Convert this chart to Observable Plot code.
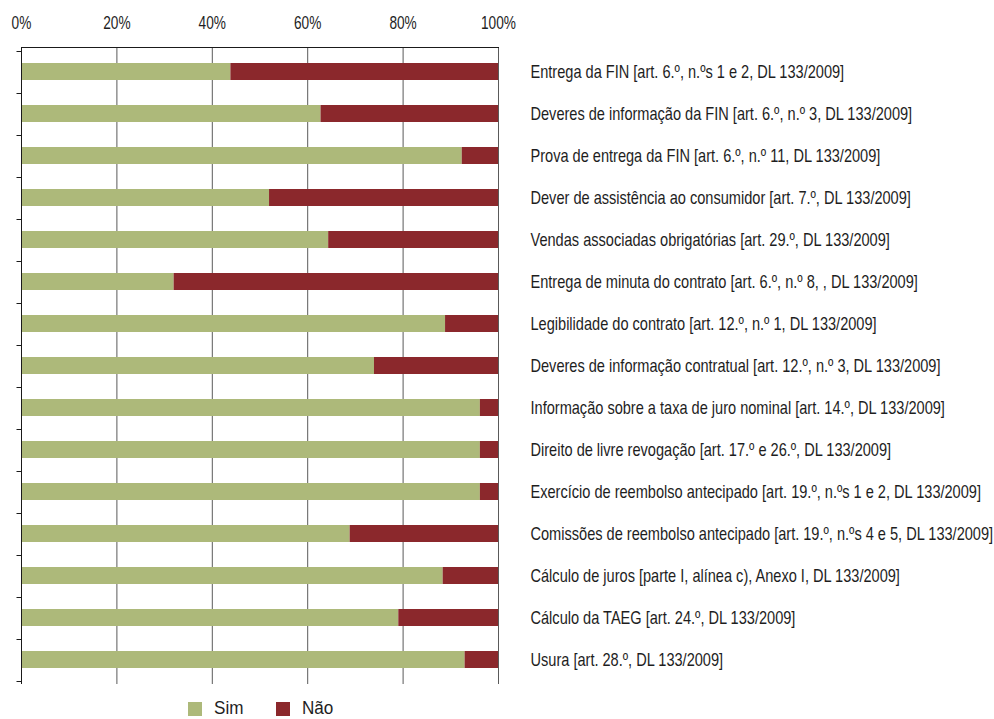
<!DOCTYPE html>
<html>
<head>
<meta charset="utf-8">
<script src="https://cdn.jsdelivr.net/npm/d3@7"></script>
<script src="https://cdn.jsdelivr.net/npm/@observablehq/plot@0.6"></script>
<style>
  html, body { margin: 0; padding: 0; background: #fff; }
  body { font-family: "Liberation Sans", Arial, sans-serif; color: #1e1e1e; }
  #legend { position: relative; height: 25px; width: 994px; }
  #legend .item { position: absolute; top: 2px; display: flex; align-items: center; height: 25px; font-size: 18px; color: #1e1e1e; }
  #legend .sw { width: 14px; height: 14px; margin-right: 12px; flex: none; }
  #legend .lbl { display: inline-block; transform: scaleX(0.95); transform-origin: left center; }
</style>
</head>
<body>
<div id="chart"></div>
<div id="legend"></div>
<script>
// Requirements assessed (DL 133/2009)
const categories = [
  "Entrega da FIN [art. 6.º, n.ºs 1 e 2, DL 133/2009]",
  "Deveres de informação da FIN [art. 6.º, n.º 3, DL 133/2009]",
  "Prova de entrega da FIN [art. 6.º, n.º 11, DL 133/2009]",
  "Dever de assistência ao consumidor [art. 7.º, DL 133/2009]",
  "Vendas associadas obrigatórias [art. 29.º, DL 133/2009]",
  "Entrega de minuta do contrato [art. 6.º, n.º 8, , DL 133/2009]",
  "Legibilidade do contrato [art. 12.º, n.º 1, DL 133/2009]",
  "Deveres de informação contratual [art. 12.º, n.º 3, DL 133/2009]",
  "Informação sobre a taxa de juro nominal [art. 14.º, DL 133/2009]",
  "Direito de livre revogação [art. 17.º e 26.º, DL 133/2009]",
  "Exercício de reembolso antecipado [art. 19.º, n.ºs 1 e 2, DL 133/2009]",
  "Comissões de reembolso antecipado [art. 19.º, n.ºs 4 e 5, DL 133/2009]",
  "Cálculo de juros [parte I, alínea c), Anexo I, DL 133/2009]",
  "Cálculo da TAEG [art. 24.º, DL 133/2009]",
  "Usura [art. 28.º, DL 133/2009]"
];

// Share of cases (%) per answer
const simValues = [43.9, 62.8, 92.4, 52.0, 64.4, 32.0, 88.9, 74.0, 96.2, 96.2, 96.2, 68.9, 88.4, 79.1, 93.0];
const naoValues = [56.1, 37.2, 7.6, 48.0, 35.6, 68.0, 11.1, 26.0, 3.8, 3.8, 3.8, 31.1, 11.6, 20.9, 7.0];

const responses = ["Sim", "Não"];
const responseColors = ["#adb97a", "#8b282c"];
const xTicks = [0, 20, 40, 60, 80, 100];

// Long-format table for the stacked bars
const rows = [];
categories.forEach((c, i) => {
  rows.push({category: c, response: "Sim", value: simValues[i]});
  rows.push({category: c, response: "Não", value: naoValues[i]});
});

const W = 994, H = 694;
const mLeft = 21, mRight = 496, mTop = 47, mBottom = 10;
const fontStack = '"Liberation Sans", Arial, sans-serif';

const chart = Plot.plot({
  width: W,
  height: H,
  marginLeft: mLeft,
  marginRight: mRight,
  marginTop: mTop,
  marginBottom: mBottom,
  style: {fontFamily: fontStack, fontSize: "18px", color: "#1e1e1e", background: "#fff"},
  x: {domain: [0, 100], axis: null, label: null},
  y: {domain: categories, paddingInner: 0.6, paddingOuter: 0.3, axis: null, label: null},
  color: {domain: responses, range: responseColors},
  marks: [
    // vertical gridlines
    Plot.ruleX(xTicks.filter(d => d > 0), {stroke: "#5a5a5a", strokeWidth: 1}),
    Plot.barX(rows, {x: "value", y: "category", fill: "response", order: responses}),
    // left axis line
    Plot.ruleX([0], {stroke: "#1a1a1a", strokeWidth: 1}),
    // top axis line
    Plot.frame({anchor: "top", stroke: "#1a1a1a"}),
    Plot.axisX({anchor: "top", ticks: xTicks, tickSize: 0, tickPadding: 19, tickFormat: d => d + "%", fontSize: 18, fill: "#1e1e1e", label: null, ariaLabel: "x-axis"}),
    Plot.axisY({anchor: "right", tickSize: 0, tickPadding: 32, textAnchor: "start", fontSize: 18, fill: "#1e1e1e", label: null, ariaLabel: "y-axis"})
  ]
});

// Condense texts horizontally around their own anchor point
function condense(selection, s) {
  selection.each(function () {
    const t = this.getAttribute("transform") || "";
    const xv = parseFloat(this.getAttribute("x"));
    const x = Number.isFinite(xv) ? xv : 0;
    this.setAttribute("transform", `${t} translate(${x},0) scale(${s},1) translate(${-x},0)`.trim());
  });
}
condense(d3.select(chart).selectAll('[aria-label="x-axis"] text, [aria-label="x-axis tick label"] text'), 0.76);
condense(d3.select(chart).selectAll('[aria-label="y-axis"] text, [aria-label="y-axis tick label"] text'), 0.81);

// Small tick marks on the left axis at the boundaries between categories
{
  const ys = chart.scale("y");
  const off = (ys.step - ys.bandwidth) / 2;
  const bounds = categories.map(c => ys.apply(c) - off);
  bounds.push(ys.apply(categories[categories.length - 1]) - off + ys.step);
  d3.select(chart).append("g")
    .attr("stroke", "#1a1a1a")
    .selectAll("line")
    .data(bounds)
    .join("line")
    .attr("x1", mLeft - 5 + 0.5)
    .attr("x2", mLeft + 0.5)
    .attr("y1", d => Math.round(d) + 0.5)
    .attr("y2", d => Math.round(d) + 0.5);
}

document.getElementById("chart").appendChild(chart);

// Legend centred under the plot area
{
  const color = chart.scale("color");
  const leg = document.getElementById("legend");
  const lefts = [188, 276];
  color.domain.forEach((d, i) => {
    const item = document.createElement("div");
    item.className = "item";
    item.style.left = lefts[i] + "px";
    const sw = document.createElement("div");
    sw.className = "sw";
    sw.style.background = color.apply(d);
    const tx = document.createElement("span");
    tx.className = "lbl";
    tx.textContent = d;
    item.appendChild(sw);
    item.appendChild(tx);
    leg.appendChild(item);
  });
}
</script>
</body>
</html>
